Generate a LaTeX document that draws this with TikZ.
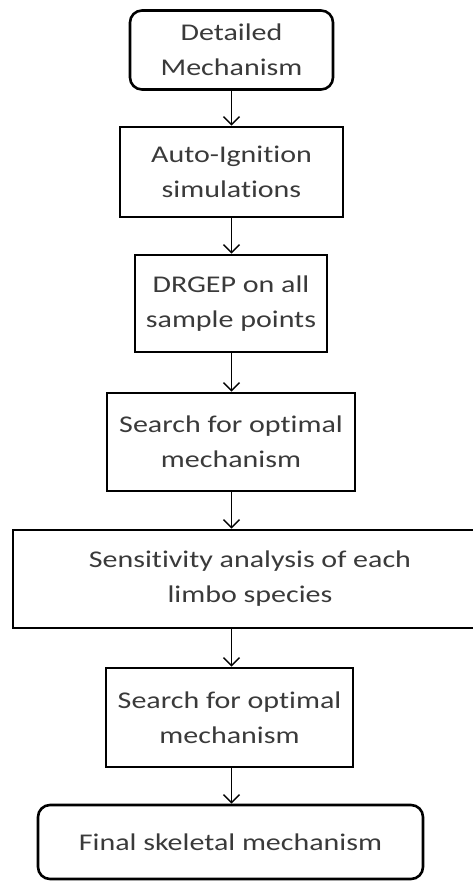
\documentclass[tikz,border=0pt]{standalone}
\usepackage{fontspec}
\setmainfont[Ligatures=NoCommon, FakeStretch=1.25]{Carlito}
\usetikzlibrary{arrows.meta}
\definecolor{txt}{HTML}{3A3A3A}
\tikzset{
  box/.style={draw=black, line width=2.6pt, inner sep=0pt, align=center,
    text=txt, font=\fontsize{24}{35}\selectfont},
  rbox/.style={box, rounded corners=12pt},
  flow/.style={line width=1.5pt, -{Straight Barb[length=8pt,width=16pt,line width=1.5pt]}}
}
\begin{document}
\begin{tikzpicture}[x=1pt,y=-1pt]
\useasboundingbox (0,0) rectangle (473,882);
\clip (0,0) rectangle (473,882);
\node[rbox, minimum width=203pt, minimum height=79pt] (b1) at (231.5,50) {Detailed\\Mechanism};
\node[box, minimum width=223pt, minimum height=90pt] (b2) at (231.5,172) {Auto-Ignition\\simulations};
\node[box, minimum width=192pt, minimum height=97pt] (b3) at (231,303.5) {DRGEP on all\\sample points};
\node[box, minimum width=248pt, minimum height=98pt] (b4) at (231,442) {Search for optimal\\mechanism};
\node[box, minimum width=474pt, minimum height=98pt] (b5) at (250,579) {Sensitivity analysis of each\\limbo species};
\node[box, minimum width=247pt, minimum height=99pt] (b6) at (229.5,717.5) {Search for optimal\\mechanism};
\node[rbox, minimum width=385pt, minimum height=74pt] (b7) at (230.5,842) {Final skeletal mechanism};
\draw[flow] (b1.south -| 231.5,0) -- (b2.north -| 231.5,0);
\draw[flow] (b2.south -| 231.5,0) -- (b3.north -| 231.5,0);
\draw[flow] (b3.south -| 231.5,0) -- (b4.north -| 231.5,0);
\draw[flow] (b4.south -| 231.5,0) -- (b5.north -| 231.5,0);
\draw[flow] (b5.south -| 231.5,0) -- (b6.north -| 231.5,0);
\draw[flow] (b6.south -| 231.5,0) -- (b7.north -| 231.5,0);
\end{tikzpicture}
\end{document}
